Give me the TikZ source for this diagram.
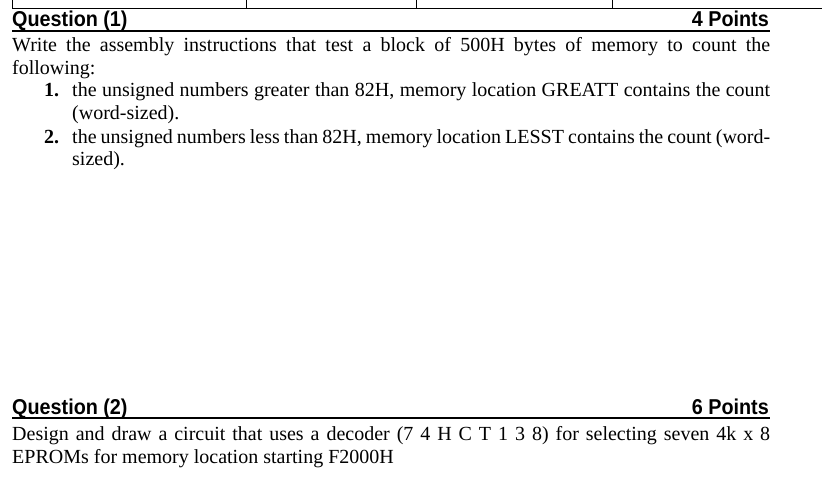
\documentclass[tikz,border=0pt]{standalone}
\usepackage{fontspec}
\setmainfont{Liberation Serif}
\newfontfamily\headfont[FakeStretch=0.92]{Liberation Sans}
\tikzset{
 head/.style={inner sep=0pt,anchor=base west,font=\headfont\bfseries\fontsize{21.5}{24}\selectfont},
 headr/.style={head,anchor=base east},
 body/.style={inner sep=0pt,anchor=base west,font=\fontsize{20}{23}\selectfont},
 rulel/.style={line width=2pt},
 tbl/.style={line width=0.8pt}
}
\begin{document}
\begin{tikzpicture}[x=1pt,y=-1pt]
\useasboundingbox (0,0) rectangle (822,492);
% table fragment
\draw[tbl] (12,8) -- (822,8);
\foreach \x in {12,246,416,612} \draw[tbl] (\x,0) -- (\x,8);
% Question 1
\node[head] (q1) at (12,27) {Question (1)};
\node[headr] (p1) at (769,27) {4 Points};
\draw[rulel] (12,31) -- (770,31);
\node[body] (t1) at (12,52) {\begin{minipage}[t]{758pt}\fontsize{20}{23}\selectfont Write the assembly instructions that test a block of 500H bytes of memory to count the\linebreak following:\end{minipage}};
\node[body] (n1) at (44,97) {\textbf{1.}};
\node[body] (i1) at (72,97) {\begin{minipage}[t]{698pt}\fontsize{20}{23}\selectfont the unsigned numbers greater than 82H, memory location GREATT contains the count\linebreak (word-sized).\end{minipage}};
\node[body] (n2) at (44,143) {\textbf{2.}};
\node[body] (i2) at (72,143) {\begin{minipage}[t]{698pt}\fontsize{20}{23}\selectfont the unsigned numbers less than 82H, memory location LESST contains the count (word-\linebreak sized).\end{minipage}};
% Question 2
\node[head] (q2) at (12,414) {Question (2)};
\node[headr] (p2) at (769,414) {6 Points};
\draw[rulel] (12,418) -- (770,418);
\node[body] (t2) at (12,440) {\begin{minipage}[t]{758pt}\fontsize{20}{23}\selectfont Design and draw a circuit that uses a decoder (7 4 H C T 1 3 8) for selecting seven 4k x 8\linebreak EPROMs for memory location starting F2000H\end{minipage}};
\end{tikzpicture}
\end{document}
